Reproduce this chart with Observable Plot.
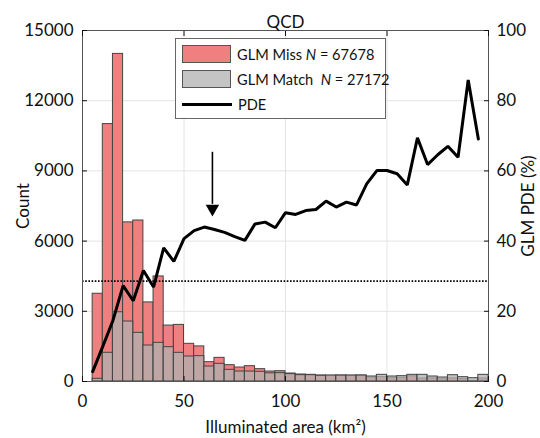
<!DOCTYPE html>
<html>
<head>
<meta charset="utf-8">
<script src="https://cdn.jsdelivr.net/npm/d3@7"></script>
<script src="https://cdn.jsdelivr.net/npm/@observablehq/plot@0.6"></script>
<style>
  body { margin: 0; background: #fff; }
  #wrap { position: relative; width: 540px; height: 438px; font-family: Lato, "Open Sans", sans-serif; }
  #legend { position: absolute; left: 175px; top: 38px; width: 209px; height: 79px; border: 1px solid #666; background: #fff; font-size: 14.6px; color: #111; white-space: nowrap; }
  .row { position: absolute; left: 6px; height: 20px; display: flex; align-items: center; white-space: nowrap; }
  .sw { width: 49px; height: 18px; border: 1px solid #555; margin-right: 6px; box-sizing: border-box; flex: none; }
  .ln { width: 50px; height: 0; border-top: 3px solid #000; margin-right: 6px; flex: none; }
</style>
</head>
<body>
<div id="wrap"></div>
<script>
// Bin left edges (km²), bin width 5
const binStart = [5,10,15,20,25,30,35,40,45,50,55,60,65,70,75,80,85,90,95,100,105,110,115,120,125,130,135,140,145,150,155,160,165,170,175,180,185,190,195];
const binWidth = 5;
// GLM Miss counts
const missCounts = [3750,11000,14000,6800,6880,3380,4490,2390,2420,1610,1500,826,1011,698,598,655,527,427,441,341,299,285,256,242,256,245,253,166,189,142,157,224,126,132,94,133,105,23,127];
// GLM Match counts
const matchCounts = [115,1226,2960,2564,2080,1538,1652,1467,1225,1068,1083,641,755,498,427,427,413,350,356,316,272,271,246,256,253,256,256,214,285,214,228,285,285,214,171,270,185,142,285];
// PDE (%) plotted at bin left edges
const pdeValues = [2.8,10,17.4,27.3,23,31.6,26.9,38.1,34.2,40.7,43,44,43.3,42.5,41.3,40.2,44.9,45.4,43.8,48.1,47.6,48.7,49.0,51.4,49.7,51.1,50.3,56.3,60.1,60.1,59.2,56.0,69.4,61.8,64.6,67.0,63.9,85.9,69.1];
const overallPDE = 28.6;
const arrowX = 64, arrowTop = 65.3, arrowTip = 47.8;
const countTicks = [0,3000,6000,9000,12000,15000];
const pdeTicks = [0,20,40,60,80,100];
const xTicks = [0,50,100,150,200];
const countMax = 15000, pdeMax = 100;
const k = countMax / pdeMax;

const bars = binStart.map((b, i) => ({x1: b, x2: b + binWidth, miss: missCounts[i], match: matchCounts[i]}));
const pdeData = binStart.map((b, i) => ({x: b, y: pdeValues[i] * k}));

const plot = Plot.plot({
  width: 540, height: 438,
  marginLeft: 82, marginRight: 52, marginTop: 30, marginBottom: 57,
  style: {fontFamily: "Lato, 'Open Sans', sans-serif", fontSize: "17px", color: "#111", background: "#fff"},
  x: {domain: [0, 200]},
  y: {domain: [0, countMax]},
  marks: [
    Plot.gridX(xTicks.slice(1, -1), {stroke: "#e4e4e4", strokeOpacity: 1}),
    Plot.gridY(countTicks.slice(1, -1), {stroke: "#e4e4e4", strokeOpacity: 1}),
    Plot.rectY(bars, {x1: "x1", x2: "x2", y: "miss", fill: "#f08080", stroke: "#444", strokeWidth: 1}),
    Plot.rectY(bars, {x1: "x1", x2: "x2", y: "match", fill: "#b0b0b0", fillOpacity: 0.76, stroke: "#444", strokeWidth: 1}),
    Plot.ruleY([overallPDE * k], {stroke: "#000", strokeWidth: 1.6, strokeDasharray: "1.6,1.6"}),
    Plot.line(pdeData, {x: "x", y: "y", stroke: "#000", strokeWidth: 3, strokeLinejoin: "miter"}),
    Plot.ruleX([arrowX], {y1: arrowTop * k, y2: arrowTip * k + 400, stroke: "#000", strokeWidth: 1.6}),
    Plot.dot([arrowX], {x: d => d, y: arrowTip * k, symbol: "triangle", r: 5, rotate: 180, fill: "#000", dy: -5}),
    Plot.frame({stroke: "#555", strokeWidth: 1}),
    Plot.axisX({ticks: xTicks, tickSize: 0, tickPadding: 13, tickFormat: d => String(d), label: "Illuminated area (km²)", labelAnchor: "center", labelArrow: "none", labelOffset: 51}),
    Plot.axisX({anchor: "bottom", ticks: xTicks, tickSize: -5, tickFormat: () => "", label: null}),
    Plot.axisX({anchor: "top", ticks: xTicks, tickSize: -5, tickFormat: () => "", label: null}),
    Plot.axisY({anchor: "left", ticks: countTicks, tickSize: 0, tickPadding: 9, tickFormat: d => String(d), label: "Count", labelAnchor: "center", labelArrow: "none", labelOffset: 66}),
    Plot.axisY({anchor: "left", ticks: countTicks, tickSize: -5, tickFormat: () => "", label: null}),
    Plot.axisY({anchor: "right", ticks: pdeTicks.map(d => d * k), tickFormat: d => String(d / k), tickSize: 0, tickPadding: 8, label: "GLM PDE (%)", labelAnchor: "center", labelArrow: "none", labelOffset: 45}),
    Plot.axisY({anchor: "right", ticks: pdeTicks.map(d => d * k), tickSize: -5, tickFormat: () => "", label: null}),
    Plot.text(["QCD"], {frameAnchor: "top", dy: -15, fontSize: 17, fill: "#111"})
  ]
});
const wrap = document.getElementById("wrap");
wrap.appendChild(plot);

const legend = document.createElement("div");
legend.id = "legend";
legend.innerHTML = `
  <div class="row" style="top:5px"><div class="sw" style="background:#f08080"></div><span>GLM Miss <i>N</i> = 67678</span></div>
  <div class="row" style="top:30px"><div class="sw" style="background:#c4c4c4"></div><span>GLM Match&nbsp; <i>N</i> = 27172</span></div>
  <div class="row" style="top:55px"><div class="ln"></div><span>PDE</span></div>`;
wrap.appendChild(legend);
</script>
</body>
</html>
